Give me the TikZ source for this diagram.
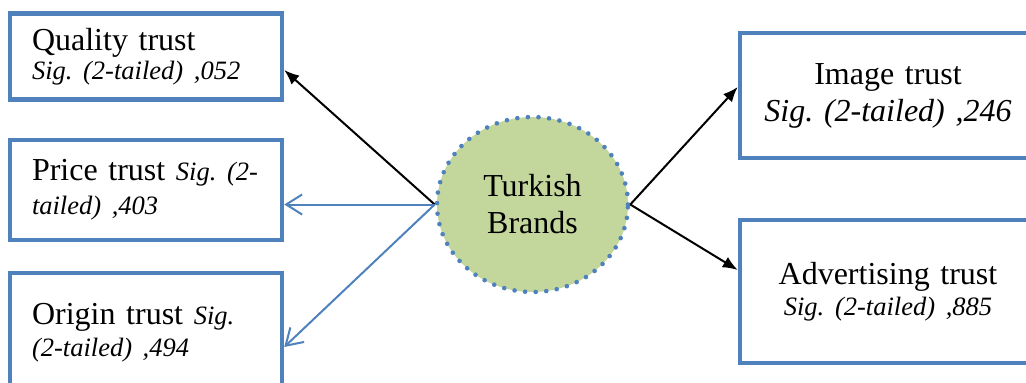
\documentclass[tikz,border=0pt]{standalone}
\usepackage{fontspec}
\setmainfont{Liberation Serif}
\usetikzlibrary{positioning,shapes.geometric,arrows.meta}
\definecolor{tbblue}{HTML}{4F81BD}
\definecolor{tbgreen}{HTML}{C3D69B}
\frenchspacing
\newcommand{\sigtxt}[1]{{\itshape\fontsize{26.5}{30}\selectfont #1}}
\tikzset{
  trust/.style={draw=tbblue,line width=4.5pt,fill=white,inner ysep=0pt,font=\fontsize{32}{34}\selectfont},
  trustl/.style={trust,align=left,inner xsep=22pt,text width=228pt},
  trustc/.style={trust,align=center,inner xsep=18pt,text width=260pt},
  brand/.style={ellipse,draw=tbblue,fill=tbgreen,line width=4.6pt,dash pattern=on 0pt off 10.6pt,line cap=round,minimum width=191pt,minimum height=175pt,inner sep=0pt,font=\fontsize{32}{37}\selectfont,align=center},
  lnkk/.style={-{Latex[length=15pt,width=12pt]},line width=2pt,draw=black},
  lnkb/.style={-{Straight Barb[length=16pt,width=20pt]},line width=2pt,draw=tbblue},
}
\begin{document}
\begin{tikzpicture}[x=1pt,y=-1pt]
  \useasboundingbox (0,0) rectangle (1026,383);
  \clip (0,0) rectangle (1026,383);
  \node[brand] (turk) at (532.5,204.5) {Turkish\\Brands};
  \node[trustl,minimum height=86pt,font=\fontsize{32}{29}\selectfont] (qual) at (146,56.5) {Quality trust\\\sigtxt{Sig. (2-tailed) ,052}};
  \node[trustl,minimum height=100pt,font=\fontsize{32}{34}\selectfont] (price) at (146,190) {Price~trust~\sigtxt{Sig.~(2-}\\\sigtxt{tailed) ,403}};
  \node[trustl,minimum height=120pt,font=\fontsize{32}{32}\selectfont] (orig) at (146,333) {Origin~trust~\sigtxt{Sig.}\\\sigtxt{(2-tailed) ,494}};
  \node[trustc,minimum height=125pt,font=\fontsize{32}{37}\selectfont] (imag) at (888,95.5) {Image trust\\\textit{Sig. (2-tailed) ,246}};
  \node[trustc,minimum height=143pt,font=\fontsize{32}{31}\selectfont] (adv) at (888,291.5) {Advertising trust\\\sigtxt{Sig. (2-tailed) ,885}};
  \draw[lnkk] (turk.west) -- ([yshift=-13.5pt]qual.east);
  \draw[lnkb] (turk.west) -- (turk.west -| price.east);
  \draw[lnkb] (turk.west) -- ([yshift=-14pt]orig.east);
  \draw[lnkk] (turk.east) -- ([yshift=8.5pt]imag.west);
  \draw[lnkk] (turk.east) -- ([yshift=21.5pt]adv.west);
\end{tikzpicture}
\end{document}
